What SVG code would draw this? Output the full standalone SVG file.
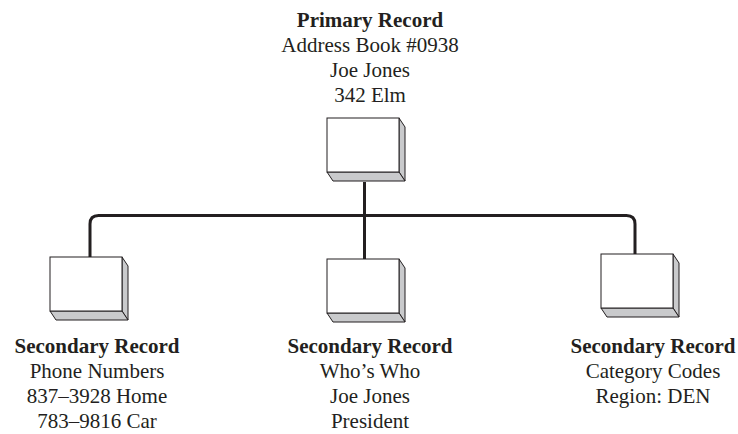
<svg xmlns="http://www.w3.org/2000/svg" width="738" height="434" viewBox="0 0 738 434">
<style>
.front{fill:#ffffff;stroke:#231f20;stroke-width:1}
.shade{fill:#c9cacc;stroke:#231f20;stroke-width:1;stroke-linejoin:round}
.conn{fill:none;stroke:#231f20;stroke-width:3}
text{font-family:"Liberation Serif","Times New Roman",serif;font-size:21px;fill:#231f20;text-anchor:middle}
.b{font-weight:bold}
</style>
<defs>
<g id="box">
<polygon class="shade" points="72,0 78,9 78,63 72,54"/>
<polygon class="shade" points="0,54 72,54 78,63 6,63"/>
<rect class="front" x="0" y="0" width="72" height="54"/>
</g>
</defs>
<g id="connectors">
<path class="conn" d="M364.5,182 V216"/>
<path class="conn" d="M90,257 V224 Q90,215.5 98.5,215.5 H626.5 Q635,215.5 635,224 V254"/>
<path class="conn" d="M364.5,215.5 V259"/>
</g>
<g id="primary">
<use href="#box" x="327" y="118"/>
<text class="b" x="370" y="27">Primary Record</text>
<text x="370" y="52">Address Book #0938</text>
<text x="370" y="77">Joe Jones</text>
<text x="370" y="102">342 Elm</text>
</g>
<g id="secondary-phone">
<use href="#box" x="50" y="257"/>
<text class="b" x="97" y="353">Secondary Record</text>
<text x="97" y="378">Phone Numbers</text>
<text x="97" y="403">837–3928 Home</text>
<text x="97" y="428">783–9816 Car</text>
</g>
<g id="secondary-whoswho">
<use href="#box" x="327" y="259"/>
<text class="b" x="370" y="353">Secondary Record</text>
<text x="370" y="378">Who’s Who</text>
<text x="370" y="403">Joe Jones</text>
<text x="370" y="428">President</text>
</g>
<g id="secondary-category">
<use href="#box" x="601" y="254"/>
<text class="b" x="653" y="353">Secondary Record</text>
<text x="653" y="378">Category Codes</text>
<text x="653" y="403">Region: DEN</text>
</g>
</svg>
